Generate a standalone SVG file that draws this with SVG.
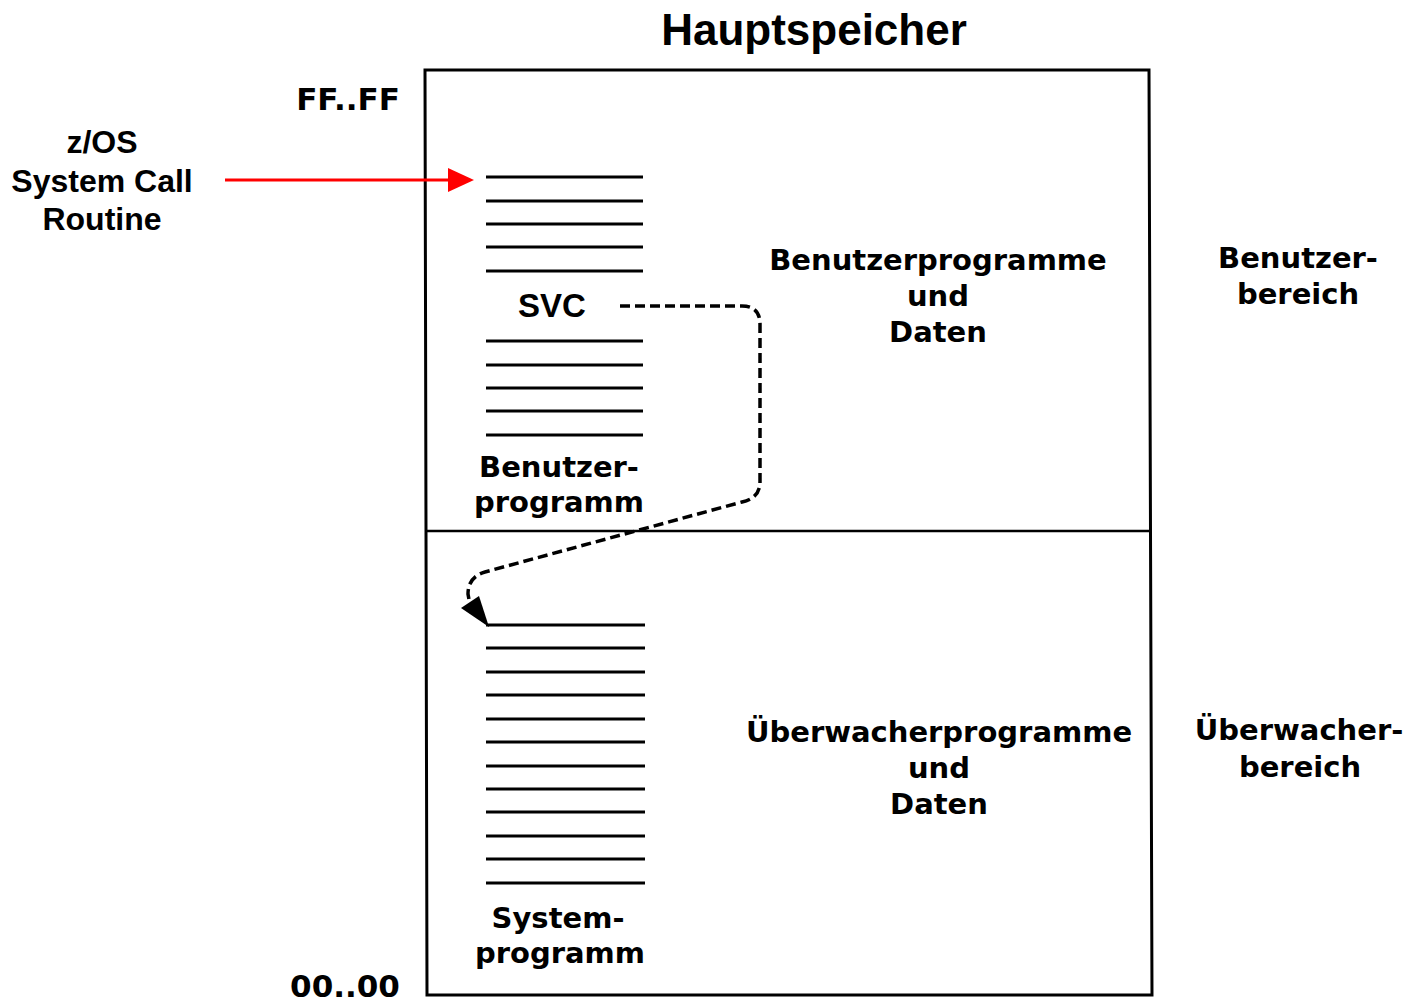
<svg xmlns="http://www.w3.org/2000/svg" width="1426" height="1006" viewBox="0 0 1426 1006">
<style>
.t{font-family:"DejaVu Sans","Liberation Sans",sans-serif;font-weight:bold;fill:#000;text-anchor:middle}
.a{font-family:"Liberation Sans",Arial,sans-serif;font-weight:bold;fill:#000;text-anchor:middle}
.ln{stroke:#000;stroke-width:3}
</style>
<rect width="1426" height="1006" fill="#fff"/>
<text class="a" x="814" y="45" font-size="44">Hauptspeicher</text>
<g id="memory">
<path d="M425,70 L1149,70 L1152,995 L427,995 Z" fill="none" stroke="#000" stroke-width="3"/>
<line x1="425" y1="531" x2="1150" y2="531" stroke="#000" stroke-width="2.5"/>
</g>
<g id="addresses">
<text class="t" x="348" y="110" font-size="31">FF..FF</text>
<text class="t" x="345" y="997" font-size="31">00..00</text>
</g>
<g id="user-program">
<g class="ln">
<line x1="486" y1="177" x2="643" y2="177"/>
<line x1="486" y1="201" x2="643" y2="201"/>
<line x1="486" y1="224" x2="643" y2="224"/>
<line x1="486" y1="247" x2="643" y2="247"/>
<line x1="486" y1="271" x2="643" y2="271"/>
<line x1="486" y1="341" x2="643" y2="341"/>
<line x1="486" y1="365" x2="643" y2="365"/>
<line x1="486" y1="388" x2="643" y2="388"/>
<line x1="486" y1="411" x2="643" y2="411"/>
<line x1="486" y1="435" x2="643" y2="435"/>
</g>
<text class="a" x="552" y="317" font-size="33">SVC</text>
<text class="t" x="559" y="477" font-size="29">Benutzer-</text>
<text class="t" x="559" y="512" font-size="29">programm</text>
</g>
<g id="system-program">
<g class="ln">
<line x1="486" y1="625" x2="645" y2="625"/>
<line x1="486" y1="648" x2="645" y2="648"/>
<line x1="486" y1="672" x2="645" y2="672"/>
<line x1="486" y1="695" x2="645" y2="695"/>
<line x1="486" y1="719" x2="645" y2="719"/>
<line x1="486" y1="742" x2="645" y2="742"/>
<line x1="486" y1="766" x2="645" y2="766"/>
<line x1="486" y1="789" x2="645" y2="789"/>
<line x1="486" y1="812" x2="645" y2="812"/>
<line x1="486" y1="836" x2="645" y2="836"/>
<line x1="486" y1="859" x2="645" y2="859"/>
<line x1="486" y1="883" x2="645" y2="883"/>
</g>
<text class="t" x="558" y="928" font-size="29">System-</text>
<text class="t" x="560" y="963" font-size="29">programm</text>
</g>
<g id="user-area">
<text class="t" x="938" y="270" font-size="29">Benutzerprogramme</text>
<text class="t" x="938" y="306" font-size="29">und</text>
<text class="t" x="938" y="342" font-size="29">Daten</text>
<text class="t" x="1298" y="268" font-size="29">Benutzer-</text>
<text class="t" x="1298" y="304" font-size="29">bereich</text>
</g>
<g id="supervisor-area">
<text class="t" x="939" y="742" font-size="29">Überwacherprogramme</text>
<text class="t" x="939" y="778" font-size="29">und</text>
<text class="t" x="939" y="814" font-size="29">Daten</text>
<text class="t" x="1299" y="740" font-size="29">Überwacher-</text>
<text class="t" x="1300" y="777" font-size="29">bereich</text>
</g>
<g id="zos-label">
<text class="a" x="102" y="153" font-size="32">z/OS</text>
<text class="a" x="102" y="192" font-size="32">System Call</text>
<text class="a" x="102" y="230" font-size="32">Routine</text>
</g>
<g id="connectors">
<line x1="225" y1="180" x2="452" y2="180" stroke="#f00" stroke-width="3"/>
<path d="M448,168 L474,180 L448,192 Z" fill="#f00"/>
<path d="M620,306 L742,306 Q760,306 760,324 L760,482 Q760,498 742,502 L485,572 Q468,577 468,594 L470,605" fill="none" stroke="#000" stroke-width="3.5" stroke-dasharray="10,5"/>
<path d="M461,608 L489,627 L479,596 Z" fill="#000"/>
</g>
</svg>
